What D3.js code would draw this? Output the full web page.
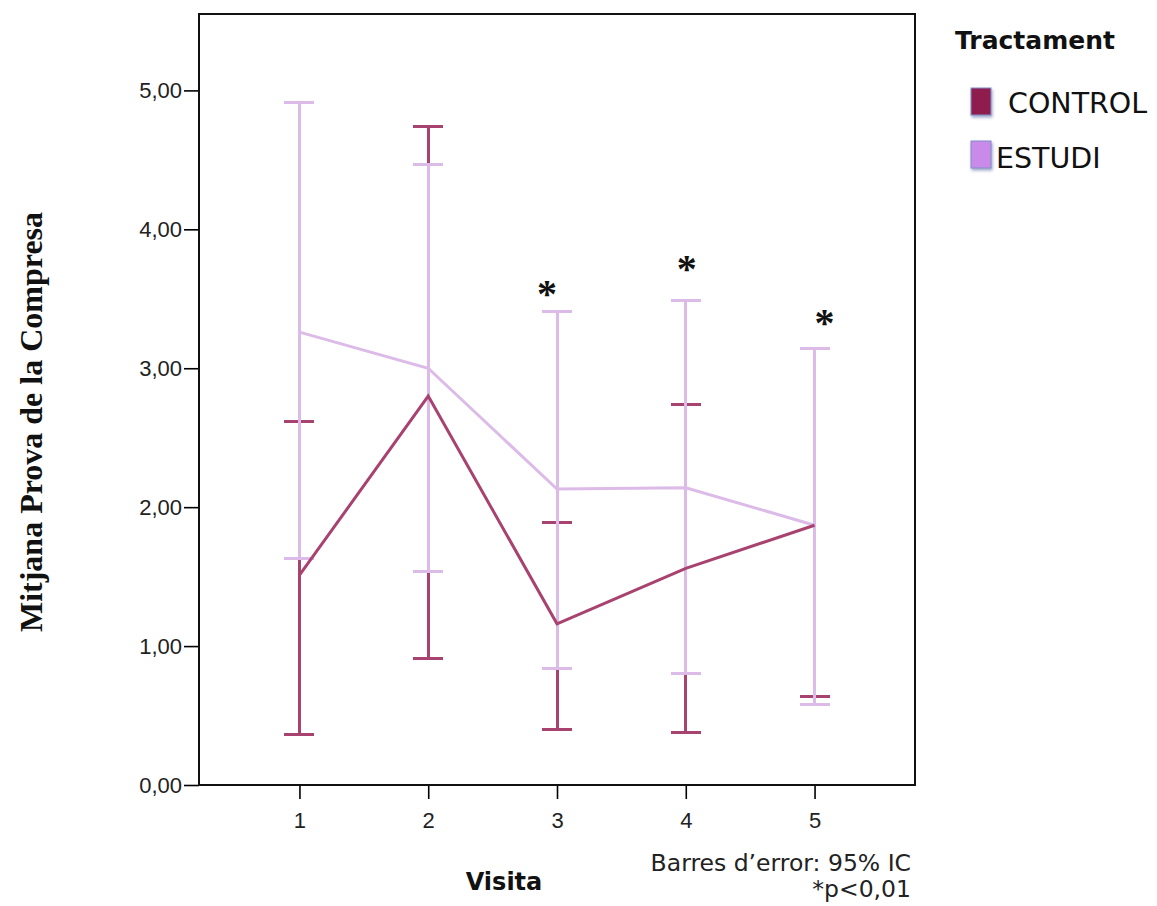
<!DOCTYPE html>
<html>
<head>
<meta charset="utf-8">
<script src="https://cdn.jsdelivr.net/npm/d3@7"></script>
<style>
  html, body { margin: 0; padding: 0; background: #fff; }
  svg { display: block; }
</style>
</head>
<body>
<svg id="chart" width="1157" height="906"></svg>
<script>
// Visits on the x axis
const visits = [1, 2, 3, 4, 5];

// Mean score and 95% confidence interval per treatment group
const controlMean  = [1.51, 2.80, 1.16, 1.56, 1.87];
const controlLower = [0.36, 0.91, 0.40, 0.38, 0.64];
const controlUpper = [2.62, 4.74, 1.89, 2.74, 3.14];

const estudiMean  = [3.26, 3.00, 2.13, 2.14, 1.87];
const estudiLower = [1.63, 1.54, 0.84, 0.80, 0.58];
const estudiUpper = [4.91, 4.47, 3.41, 3.49, 3.14];

// Significance markers (visit, height in score units)
const sigVisits = [3, 4, 5];
const sigY      = [3.58, 3.76, 3.37];
const sigDx     = [-10, 1, 10];

const yTicks = [0, 1, 2, 3, 4, 5];
const groups = ["CONTROL", "ESTUDI"];

const colors = { CONTROL: "#a8426f", ESTUDI: "#dcbbe8" };
const legendFill = { CONTROL: "#8e1d4e", ESTUDI: "#c98ae9" };

const svg = d3.select("#chart");
const frame = { left: 199, right: 915, top: 14, bottom: 785 };

const x = d3.scalePoint()
  .domain(visits)
  .range([frame.left, frame.right])
  .padding(0.78);

const y = d3.scaleLinear()
  .domain([0, 5.55])
  .range([frame.bottom, frame.top]);

const fmt = v => d3.format(".2f")(v).replace(".", ",");
const sans = "'DejaVu Sans', Verdana, sans-serif";

// Axes
const yAxis = svg.append("g")
  .attr("transform", `translate(${frame.left},0)`)
  .call(d3.axisLeft(y).tickValues(yTicks).tickFormat(fmt).tickSize(15).tickPadding(2));
yAxis.select(".domain").remove();
yAxis.selectAll("line").attr("stroke", "#000").attr("stroke-width", 1.6);
yAxis.selectAll("text")
  .attr("font-family", "'Liberation Sans', Arial, sans-serif")
  .attr("font-size", 22).attr("fill", "#222");

const xAxis = svg.append("g")
  .attr("transform", `translate(0,${frame.bottom})`)
  .call(d3.axisBottom(x).tickSize(14).tickPadding(13));
xAxis.select(".domain").remove();
xAxis.selectAll("line").attr("stroke", "#000").attr("stroke-width", 1.6);
xAxis.selectAll("text")
  .attr("font-family", "'Liberation Sans', Arial, sans-serif")
  .attr("font-size", 22).attr("fill", "#222");

// Plot frame
svg.append("rect")
  .attr("x", frame.left).attr("y", frame.top)
  .attr("width", frame.right - frame.left)
  .attr("height", frame.bottom - frame.top)
  .attr("fill", "none").attr("stroke", "#111").attr("stroke-width", 2);

const capW = 15;

function errorBars(name, lower, upper) {
  const g = svg.append("g")
    .attr("stroke", colors[name])
    .attr("stroke-width", 3)
    .attr("shape-rendering", "crispEdges")
    .attr("fill", "none");
  visits.forEach((v, i) => {
    const cx = x(v);
    g.append("line").attr("x1", cx).attr("x2", cx).attr("y1", y(lower[i])).attr("y2", y(upper[i]));
    g.append("line").attr("x1", cx - capW).attr("x2", cx + capW).attr("y1", y(lower[i])).attr("y2", y(lower[i]));
    g.append("line").attr("x1", cx - capW).attr("x2", cx + capW).attr("y1", y(upper[i])).attr("y2", y(upper[i]));
  });
}

function meanLine(name, means) {
  svg.append("path")
    .datum(visits.map((v, i) => [v, means[i]]))
    .attr("fill", "none")
    .attr("stroke", colors[name])
    .attr("stroke-width", 3)
    .attr("stroke-linejoin", "miter")
    .attr("d", d3.line().x(d => x(d[0])).y(d => y(d[1])));
}

errorBars("CONTROL", controlLower, controlUpper);
errorBars("ESTUDI", estudiLower, estudiUpper);
meanLine("ESTUDI", estudiMean);
meanLine("CONTROL", controlMean);

// Significance asterisks
svg.append("g").selectAll("text")
  .data(sigVisits)
  .join("text")
  .attr("x", (d, i) => x(d) + sigDx[i])
  .attr("y", (d, i) => y(sigY[i]) + 19)
  .attr("text-anchor", "middle")
  .attr("font-family", "'Liberation Serif', 'Times New Roman', serif")
  .attr("font-weight", "bold")
  .attr("font-size", 40)
  .attr("fill", "#111")
  .text("*");

// Axis titles
svg.append("text")
  .attr("transform", "translate(42,422) rotate(-90)")
  .attr("text-anchor", "middle")
  .attr("font-family", "'Liberation Serif', 'Times New Roman', serif")
  .attr("font-weight", "bold")
  .attr("font-size", 32)
  .attr("fill", "#111")
  .text("Mitjana Prova de la Compresa");

svg.append("text")
  .attr("x", 504).attr("y", 890)
  .attr("text-anchor", "middle")
  .attr("font-family", sans)
  .attr("font-weight", "bold")
  .attr("font-size", 24)
  .attr("fill", "#111")
  .text("Visita");

svg.append("text")
  .attr("x", 911).attr("y", 871)
  .attr("text-anchor", "end")
  .attr("font-family", sans)
  .attr("font-size", 23.5)
  .attr("fill", "#222")
  .text("Barres d\u2019error: 95% IC");

svg.append("text")
  .attr("x", 911).attr("y", 897)
  .attr("text-anchor", "end")
  .attr("font-family", sans)
  .attr("font-size", 23.5)
  .attr("fill", "#222")
  .text("*p<0,01");

// Legend
const defs = svg.append("defs");
const shadow = defs.append("filter").attr("id", "boxShadow").attr("x", "-50%").attr("y", "-50%").attr("width", "200%").attr("height", "200%");
shadow.append("feGaussianBlur").attr("in", "SourceAlpha").attr("stdDeviation", 1.8).attr("result", "b");
shadow.append("feOffset").attr("in", "b").attr("dx", 1).attr("dy", 2).attr("result", "o");
shadow.append("feFlood").attr("flood-color", "#4a5a9a").attr("flood-opacity", 0.55).attr("result", "c");
shadow.append("feComposite").attr("in", "c").attr("in2", "o").attr("operator", "in").attr("result", "s");
const merge = shadow.append("feMerge");
merge.append("feMergeNode").attr("in", "s");
merge.append("feMergeNode").attr("in", "SourceGraphic");

svg.append("text")
  .attr("x", 955).attr("y", 49)
  .attr("font-family", sans)
  .attr("font-weight", "bold")
  .attr("font-size", 25)
  .attr("fill", "#111")
  .text("Tractament");

const legendRows = [
  { name: "CONTROL", boxY: 88, textX: 1008, textY: 113 },
  { name: "ESTUDI", boxY: 141, textX: 996, textY: 168 }
];
const leg = svg.append("g").selectAll("g").data(legendRows).join("g");
leg.append("rect")
  .attr("x", 971).attr("y", d => d.boxY)
  .attr("width", 20).attr("height", 27)
  .attr("fill", d => legendFill[d.name])
  .attr("stroke", "#8090c8").attr("stroke-width", 1)
  .attr("filter", "url(#boxShadow)");
leg.append("text")
  .attr("x", d => d.textX).attr("y", d => d.textY)
  .attr("font-family", sans)
  .attr("font-size", 28.5)
  .attr("fill", "#111")
  .text(d => d.name);
</script>
</body>
</html>
